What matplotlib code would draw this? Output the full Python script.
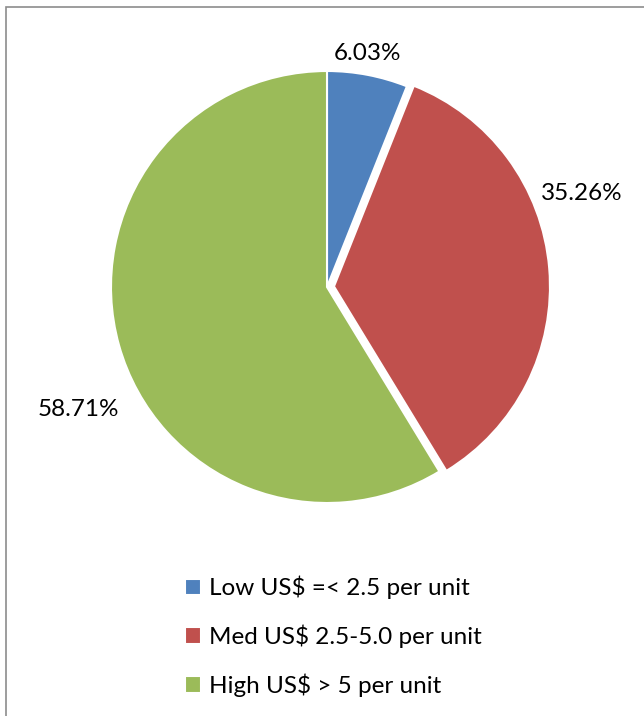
import matplotlib.pyplot as plt
from matplotlib.patches import Rectangle

# data
categories = ['Low US$ =< 2.5 per unit', 'Med US$ 2.5-5.0 per unit', 'High US$ > 5 per unit']
shares = [6.03, 35.26, 58.71]
colors = ['#4F81BD', '#C0504D', '#9BBB59']
explode = [0, 7, 0]

# label placement (pixel coords, y up) - Excel "best fit" style
label_pos = [(368, 662), (582, 523), (78, 306)]

plt.rcParams['font.family'] = ['Lato', 'DejaVu Sans']

fig = plt.figure(figsize=(6.44, 7.16), dpi=100)
ax = fig.add_axes([0, 0, 1, 1])
ax.set_xlim(0, 644)
ax.set_ylim(0, 716)
ax.set_aspect('equal')
ax.axis('off')

wedges, texts, autotexts = ax.pie(
    shares, colors=colors, explode=explode, startangle=90, counterclock=False,
    center=(327, 429), radius=216, autopct='%1.2f%%',
    wedgeprops=dict(edgecolor='white', linewidth=1.5),
    textprops=dict(fontsize=17.5, color='black'))
ax.set_xlim(0, 644)
ax.set_ylim(0, 716)

for t, pos in zip(autotexts, label_pos):
    t.set_position(pos)
    t.set_ha('center')
    t.set_va('center')

ax.legend(wedges, categories, loc='upper left', bbox_to_anchor=(163 / 644, 1 - 554 / 716),
          bbox_transform=fig.transFigure, frameon=False, fontsize=17.5,
          handlelength=0.68, handleheight=0.68, handletextpad=0.3, labelspacing=1.04)

# chart frame (runs off the right and bottom edges)
fig.patches.append(Rectangle((6 / 644, -0.1), 1.2, 1 - 7 / 716 + 0.1, transform=fig.transFigure,
                             fill=False, edgecolor='#8c8c8c', linewidth=1.2))

fig.savefig('out.png', dpi=100)
